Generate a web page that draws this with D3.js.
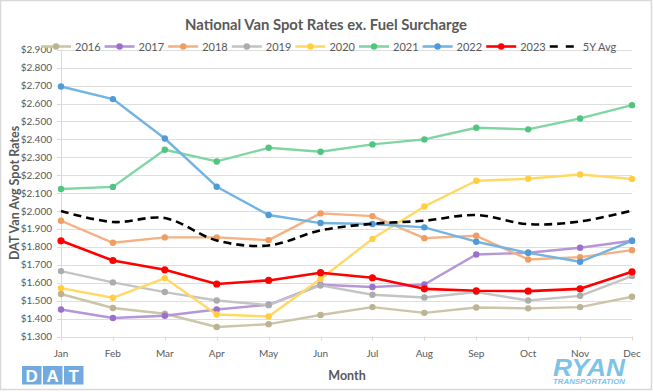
<!DOCTYPE html>
<html><head><meta charset="utf-8">
<script src="https://cdn.jsdelivr.net/npm/d3@7/dist/d3.min.js"></script>
<style>body{margin:0;background:#fff}svg{display:block}</style>
</head><body>
<script>
const months = ["Jan","Feb","Mar","Apr","May","Jun","Jul","Aug","Sep","Oct","Nov","Dec"];
const y2016 = [1.537,1.459,1.427,1.353,1.369,1.420,1.464,1.432,1.462,1.457,1.464,1.522];
const y2017 = [1.451,1.403,1.416,1.451,1.477,1.589,1.576,1.590,1.758,1.767,1.795,1.834];
const y2018 = [1.946,1.823,1.853,1.853,1.838,1.987,1.972,1.849,1.862,1.730,1.743,1.782];
const y2019 = [1.665,1.602,1.548,1.501,1.475,1.585,1.533,1.518,1.548,1.501,1.527,1.637];
const y2020 = [1.570,1.516,1.626,1.423,1.412,1.621,1.845,2.026,2.169,2.180,2.204,2.179];
const y2021 = [2.123,2.135,2.342,2.277,2.353,2.331,2.372,2.400,2.465,2.456,2.517,2.591];
const y2022 = [2.695,2.625,2.405,2.136,1.978,1.933,1.928,1.909,1.829,1.767,1.717,1.834];
const y2023 = [1.834,1.724,1.672,1.593,1.613,1.656,1.628,1.566,1.555,1.553,1.566,1.661];
const avg5  = [2.000,1.939,1.961,1.836,1.808,1.892,1.929,1.946,1.978,1.927,1.942,2.003];
const seriesNames = ["2016","2017","2018","2019","2020","2021","2022","2023"];
const yTicks = [1.3,1.4,1.5,1.6,1.7,1.8,1.9,2.0,2.1,2.2,2.3,2.4,2.5,2.6,2.7,2.8,2.9];

const lineColors = ["#ccc5a8","#b596d6","#f4b183","#c4c4c4","#ffd966","#7fd6a2","#74b4e3","#ff0000"];
const dotColors  = ["#bcb390","#9b6fcb","#ef9d60","#acacac","#ffcf40","#4fc57f","#4f9bd8","#ff0000"];
const seriesData = [y2016,y2017,y2018,y2019,y2020,y2021,y2022,y2023];

const W=653,H=392;
const svg=d3.select("body").append("svg").attr("width",W).attr("height",H);
svg.append("rect").attr("x",0.5).attr("y",0.5).attr("width",W-2).attr("height",H-3)
  .attr("fill","#fff").attr("stroke","#d9d9d9").attr("stroke-width",1.5);

const x=d3.scalePoint().domain(months).range([61,632]);
const y=d3.scaleLinear().domain([1.3,2.9]).range([336.5,49.8]);
const font="Lato, 'Open Sans', sans-serif";
const txt="#595959";

// grid
svg.append("g").selectAll("line").data(yTicks).join("line")
  .attr("x1",61).attr("x2",632).attr("y1",d=>Math.round(y(d))+0.5).attr("y2",d=>Math.round(y(d))+0.5)
  .attr("stroke","#dedede").attr("stroke-width",1);
// y axis line + ticks
svg.append("line").attr("x1",61.5).attr("x2",61.5).attr("y1",y(2.9)).attr("y2",y(1.3))
  .attr("stroke","#d9d9d9");
svg.append("g").selectAll("line").data(yTicks).join("line")
  .attr("x1",57).attr("x2",61).attr("y1",d=>Math.round(y(d))+0.5).attr("y2",d=>Math.round(y(d))+0.5)
  .attr("stroke","#d9d9d9");
// x ticks
svg.append("g").selectAll("line").data(months).join("line")
  .attr("x1",d=>Math.round(x(d))+0.5).attr("x2",d=>Math.round(x(d))+0.5)
  .attr("y1",y(1.3)).attr("y2",y(1.3)+4).attr("stroke","#d9d9d9");

// y labels
svg.append("g").selectAll("text").data(yTicks).join("text")
  .attr("x",52).attr("y",d=>y(d)+3.5).attr("text-anchor","end")
  .attr("font-family",font).attr("font-size",10).attr("fill",txt)
  .text(d=>"$"+d.toFixed(3));
// x labels
svg.append("g").selectAll("text").data(months).join("text")
  .attr("x",d=>x(d)).attr("y",356.5).attr("text-anchor","middle")
  .attr("font-family",font).attr("font-size",10).attr("fill",txt).text(d=>d);

// axis titles
svg.append("text").attr("x",347).attr("y",380).attr("text-anchor","middle")
  .attr("font-family",font).attr("font-weight","bold").attr("font-size",12.5).attr("fill",txt).text("Month");
svg.append("text").attr("transform","translate(19,193) rotate(-90)").attr("text-anchor","middle")
  .attr("font-family",font).attr("font-weight","bold").attr("font-size",12.5).attr("fill",txt).text("DAT Van Avg Spot Rates");
// title
svg.append("text").attr("x",326).attr("y",30).attr("text-anchor","middle")
  .attr("font-family",font).attr("font-weight","bold").attr("font-size",16).attr("fill",txt)
  .attr("textLength",282).attr("lengthAdjust","spacingAndGlyphs")
  .text("National Van Spot Rates ex. Fuel Surcharge");

// series
const line=d3.line().x((d,i)=>x(months[i])).y(d=>y(d));
seriesData.forEach((s,k)=>{
  const g=svg.append("g");
  g.append("path").datum(s).attr("d",line).attr("fill","none")
   .attr("stroke",lineColors[k]).attr("stroke-width",k===7?2.6:2.4).attr("stroke-linejoin","round");
  g.selectAll("circle").data(s).join("circle").attr("cx",(d,i)=>x(months[i])).attr("cy",d=>y(d))
   .attr("r",k===7?3.6:3.2).attr("fill",dotColors[k]);
});
const smooth=d3.line().x((d,i)=>x(months[i])).y(d=>y(d)).curve(d3.curveCatmullRom.alpha(0.5));
svg.append("path").datum(avg5).attr("d",smooth).attr("fill","none").attr("stroke","#000")
  .attr("stroke-width",2.6).attr("stroke-dasharray","8,5");

// legend
const legX=41, legStep=63.6, legY=46.5;
seriesNames.forEach((n,k)=>{
  const lx=legX+k*legStep;
  svg.append("line").attr("x1",lx).attr("x2",lx+30).attr("y1",legY).attr("y2",legY)
    .attr("stroke",lineColors[k]).attr("stroke-width",2.6);
  svg.append("circle").attr("cx",lx+15).attr("cy",legY).attr("r",3.2).attr("fill",dotColors[k]);
  svg.append("text").attr("x",lx+34).attr("y",legY+4).attr("font-family",font).attr("font-size",11)
    .attr("fill",txt).text(n);
});
{
  const lx=legX+8*legStep;
  svg.append("line").attr("x1",lx).attr("x2",lx+30).attr("y1",legY).attr("y2",legY)
    .attr("stroke","#000").attr("stroke-width",2.6).attr("stroke-dasharray","8,8");
  svg.append("text").attr("x",lx+33).attr("y",legY+4).attr("font-family",font).attr("font-size",11)
    .attr("fill",txt).text("5Y Avg");
}

// DAT logo
const datL=["D","A","T"];
datL.forEach((c,i)=>{
  const bx=22+i*21;
  svg.append("rect").attr("x",bx).attr("y",366).attr("width",19.5).attr("height",18.5).attr("fill","#72aadf");
  svg.append("text").attr("x",bx+9.75).attr("y",381.5).attr("text-anchor","middle")
    .attr("font-family","'Liberation Sans', Arial, sans-serif").attr("font-weight","bold").attr("font-size",17)
    .attr("fill","#fff").text(c);
});
// RYAN logo
svg.append("text").attr("x",589).attr("y",375.5).attr("text-anchor","middle")
  .attr("font-family","'Liberation Sans', Arial, sans-serif").attr("font-weight","bold").attr("font-style","italic")
  .attr("font-size",23).attr("fill","#7dc3e8").attr("textLength",72).attr("lengthAdjust","spacingAndGlyphs").text("RYAN");
svg.append("text").attr("x",589).attr("y",383.5).attr("text-anchor","middle")
  .attr("font-family","'Liberation Sans', Arial, sans-serif").attr("font-weight","bold").attr("font-style","italic")
  .attr("font-size",6.8).attr("fill","#7dc3e8").attr("textLength",72).attr("lengthAdjust","spacingAndGlyphs").text("TRANSPORTATION");
</script>
</body></html>
